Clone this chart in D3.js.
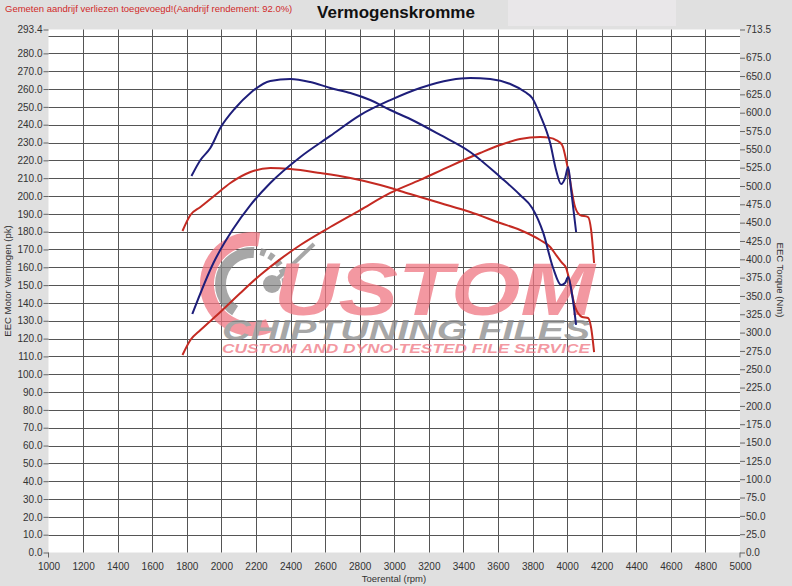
<!DOCTYPE html>
<html>
<head>
<meta charset="utf-8">
<script src="https://cdnjs.cloudflare.com/ajax/libs/d3/7.8.5/d3.min.js"></script>
<style>
body { margin: 0; background: #e0e0e0; }
text { font-family: "Liberation Sans", Arial, sans-serif; }
</style>
</head>
<body>
<svg width="792" height="586"></svg>
<script>
// rpm / value pairs
const rpmBluePower = [1832, 1954, 2064, 2168, 2283, 2457, 2630, 2803, 2977, 3150, 3324, 3439, 3555, 3671, 3757, 3798, 3844, 3902, 3936, 3965, 3988, 4006, 4023, 4052]
const bluePower = [133.8, 162.4, 180.9, 194.9, 207.3, 221.9, 233.7, 245.4, 253.8, 260.6, 265.1, 266.2, 265.6, 262.8, 258.3, 255.0, 245.4, 229.7, 214.6, 206.7, 210.0, 216.3, 203.4, 179.8]

const rpmBlueTorque = [1827, 1879, 1936, 1994, 2081, 2168, 2283, 2399, 2514, 2630, 2746, 2861, 2977, 3092, 3266, 3439, 3613, 3728, 3798, 3862, 3919, 3965, 3988, 4006, 4029, 4052]
const blueTorque = [513.6, 535.5, 551.8, 579.1, 606.4, 626.9, 643.2, 646.0, 641.9, 633.7, 626.9, 617.3, 603.7, 591.4, 569.6, 546.4, 512.3, 487.7, 470.0, 436.0, 388.1, 364.9, 367.7, 375.8, 351.3, 310.4]

const rpmRedPower = [1775, 1821, 1879, 1994, 2110, 2225, 2341, 2457, 2630, 2803, 2977, 3150, 3324, 3497, 3613, 3728, 3844, 3902, 3936, 3971, 4006, 4046, 4075, 4121, 4139, 4156]
const redPower = [110.8, 119.2, 124.8, 134.9, 145.6, 155.7, 164.6, 172.5, 182.6, 192.1, 201.7, 209.0, 216.8, 224.1, 228.6, 232.0, 233.1, 232.6, 231.4, 228.6, 214.6, 193.8, 189.3, 188.2, 180.9, 162.4]

const rpmRedTorque = [1775, 1821, 1879, 1965, 2052, 2168, 2283, 2399, 2572, 2746, 2919, 3092, 3266, 3439, 3613, 3728, 3844, 3902, 3936, 3971, 3994, 4006, 4046, 4087, 4121, 4139, 4156]
const redTorque = [438.6, 460.4, 471.4, 487.7, 504.1, 519.1, 524.5, 523.2, 517.7, 510.9, 501.4, 489.0, 476.8, 464.5, 449.5, 440.0, 426.3, 416.8, 405.9, 395.0, 388.2, 378.6, 335.0, 321.3, 319.9, 306.3, 273.5]

const rpmTicks = d3.range(1000, 5001, 200)
const pkTicks = d3.range(0, 281, 10).concat([293.4])
const pkGrid = d3.range(10, 291, 10)
const nmTicks = d3.range(0, 676, 25).concat([713.5])

const TITLE = "Vermogenskromme"
const NOTE = "Gemeten aandrijf verliezen toegevoegd!(Aandrijf rendement: 92.0%)"

const plot = { left: 48.5, right: 740, top: 29.5, bottom: 552.5 }

const x = d3.scaleLinear().domain([1000, 5000]).range([plot.left, plot.right])
const yPk = d3.scaleLinear().domain([0, 293.4]).range([plot.bottom, plot.top])
const yNm = d3.scaleLinear().domain([0, 713.5]).range([plot.bottom, plot.top])

const svg = d3.select("svg")

svg.append("rect").attr("width", 792).attr("height", 586).attr("fill", "#e0e0e0")
svg.append("rect").attr("x", 508).attr("y", 0).attr("width", 168).attr("height", 26).attr("fill", "#e9e7e9")

svg.append("rect")
    .attr("x", plot.left).attr("y", plot.top)
    .attr("width", plot.right - plot.left).attr("height", plot.bottom - plot.top)
    .attr("fill", "#fff")

// grid
const grid = svg.append("g").attr("stroke", "#555").attr("stroke-width", 1)
grid.selectAll("line.v")
    .data(rpmTicks.filter(d => d > 1000 && d < 5000))
    .join("line")
    .attr("x1", d => Math.round(x(d)) + 0.5).attr("x2", d => Math.round(x(d)) + 0.5)
    .attr("y1", plot.top).attr("y2", plot.bottom)
grid.selectAll("line.h")
    .data(pkGrid)
    .join("line")
    .attr("x1", plot.left).attr("x2", plot.right)
    .attr("y1", d => Math.round(yPk(d)) + 0.5).attr("y2", d => Math.round(yPk(d)) + 0.5)

// watermark
const PINK = "#ef7682", GREY = "#8a8a8a"
const wm = svg.append("g").attr("opacity", 0.75)
const logo = wm.append("g").attr("transform", "translate(252,284)")
logo.append("path")
    .attr("d", d3.arc().innerRadius(38).outerRadius(52).startAngle(0.05 * Math.PI).endAngle(-1.12 * Math.PI)())
    .attr("fill", PINK)
logo.append("path")
    .attr("d", d3.arc().innerRadius(26).outerRadius(37).startAngle(-0.82 * Math.PI).endAngle(0.02 * Math.PI)())
    .attr("fill", GREY)
d3.range(0.08, 0.5, 0.09).forEach(a =>
{
    logo.append("path")
        .attr("d", d3.arc().innerRadius(30).outerRadius(37).startAngle(a * Math.PI).endAngle((a + 0.05) * Math.PI)())
        .attr("fill", GREY)
})
logo.append("line")
    .attr("x1", 20).attr("y1", 0).attr("x2", 62).attr("y2", -40)
    .attr("stroke", GREY).attr("stroke-width", 4)
logo.append("circle").attr("cx", 20).attr("cy", 0).attr("r", 9).attr("fill", GREY)
wm.append("text")
    .attr("x", 274).attr("y", 315)
    .attr("textLength", 321).attr("lengthAdjust", "spacingAndGlyphs")
    .style("font-size", "74px").style("font-weight", "bold").style("font-style", "italic")
    .attr("fill", PINK)
    .text("USTOM")
wm.append("text")
    .attr("x", 222).attr("y", 340)
    .attr("textLength", 368).attr("lengthAdjust", "spacingAndGlyphs")
    .style("font-size", "29px").style("font-weight", "bold").style("font-style", "italic")
    .attr("fill", GREY)
    .text("CHIPTUNING FILES")
wm.append("text")
    .attr("x", 222).attr("y", 353)
    .attr("textLength", 368).attr("lengthAdjust", "spacingAndGlyphs")
    .style("font-size", "13px").style("font-weight", "bold").style("font-style", "italic")
    .attr("fill", PINK)
    .text("CUSTOM AND DYNO-TESTED FILE SERVICE")

// curves
function drawCurve(rpms, vals, yScale, color)
{
    const pts = rpms.map((r, i) => [r, vals[i]])
    const line = d3.line()
        .x(d => x(d[0]))
        .y(d => yScale(d[1]))
        .curve(d3.curveMonotoneX)
    svg.append("path")
        .datum(pts)
        .attr("fill", "none")
        .attr("stroke", color)
        .attr("stroke-width", 2)
        .attr("stroke-linejoin", "round")
        .attr("d", line)
}

drawCurve(rpmRedPower, redPower, yPk, "#c42a22")
drawCurve(rpmRedTorque, redTorque, yNm, "#c42a22")
drawCurve(rpmBluePower, bluePower, yPk, "#1e1e7a")
drawCurve(rpmBlueTorque, blueTorque, yNm, "#1e1e7a")

// axes
const fmt = d3.format(".1f")

const leftAxis = svg.append("g")
    .attr("transform", "translate(" + plot.left + ",0)")
    .call(d3.axisLeft(yPk).tickValues(pkTicks).tickFormat(fmt).tickSize(5).tickPadding(1))
const rightAxis = svg.append("g")
    .attr("transform", "translate(" + plot.right + ",0)")
    .call(d3.axisRight(yNm).tickValues(nmTicks).tickFormat(fmt).tickSize(5).tickPadding(1))
const bottomAxis = svg.append("g")
    .attr("transform", "translate(0," + plot.bottom + ")")
    .call(d3.axisBottom(x).tickValues(rpmTicks).tickFormat(d3.format("d")).tickSize(0).tickPadding(10))

for (const ax of [leftAxis, rightAxis, bottomAxis])
{
    ax.select(".domain").remove()
    ax.selectAll("line").attr("stroke", "#666")
    ax.selectAll("text").attr("fill", "#333").style("font-size", "10px")
}

svg.selectAll("line.end")
    .data([1000, 5000])
    .join("line")
    .attr("x1", d => x(d)).attr("x2", d => x(d))
    .attr("y1", plot.bottom).attr("y2", plot.bottom + 5)
    .attr("stroke", "#666")

// titles
svg.append("text")
    .attr("x", 396).attr("y", 18)
    .attr("text-anchor", "middle")
    .style("font-size", "17px").style("font-weight", "bold")
    .attr("fill", "#111")
    .text(TITLE)

svg.append("text")
    .attr("x", 5).attr("y", 12)
    .style("font-size", "9.5px")
    .attr("fill", "#d02a2a")
    .text(NOTE)

svg.append("text")
    .attr("transform", "translate(11,281) rotate(-90)")
    .attr("text-anchor", "middle")
    .style("font-size", "9.5px")
    .attr("fill", "#333")
    .text("EEC Motor Vermogen (pk)")

svg.append("text")
    .attr("transform", "translate(777,280) rotate(90)")
    .attr("text-anchor", "middle")
    .style("font-size", "9.5px")
    .attr("fill", "#333")
    .text("EEC Torque (Nm)")

svg.append("text")
    .attr("x", 394).attr("y", 582)
    .attr("text-anchor", "middle")
    .style("font-size", "9.5px")
    .attr("fill", "#333")
    .text("Toerental (rpm)")
</script>
</body>
</html>
